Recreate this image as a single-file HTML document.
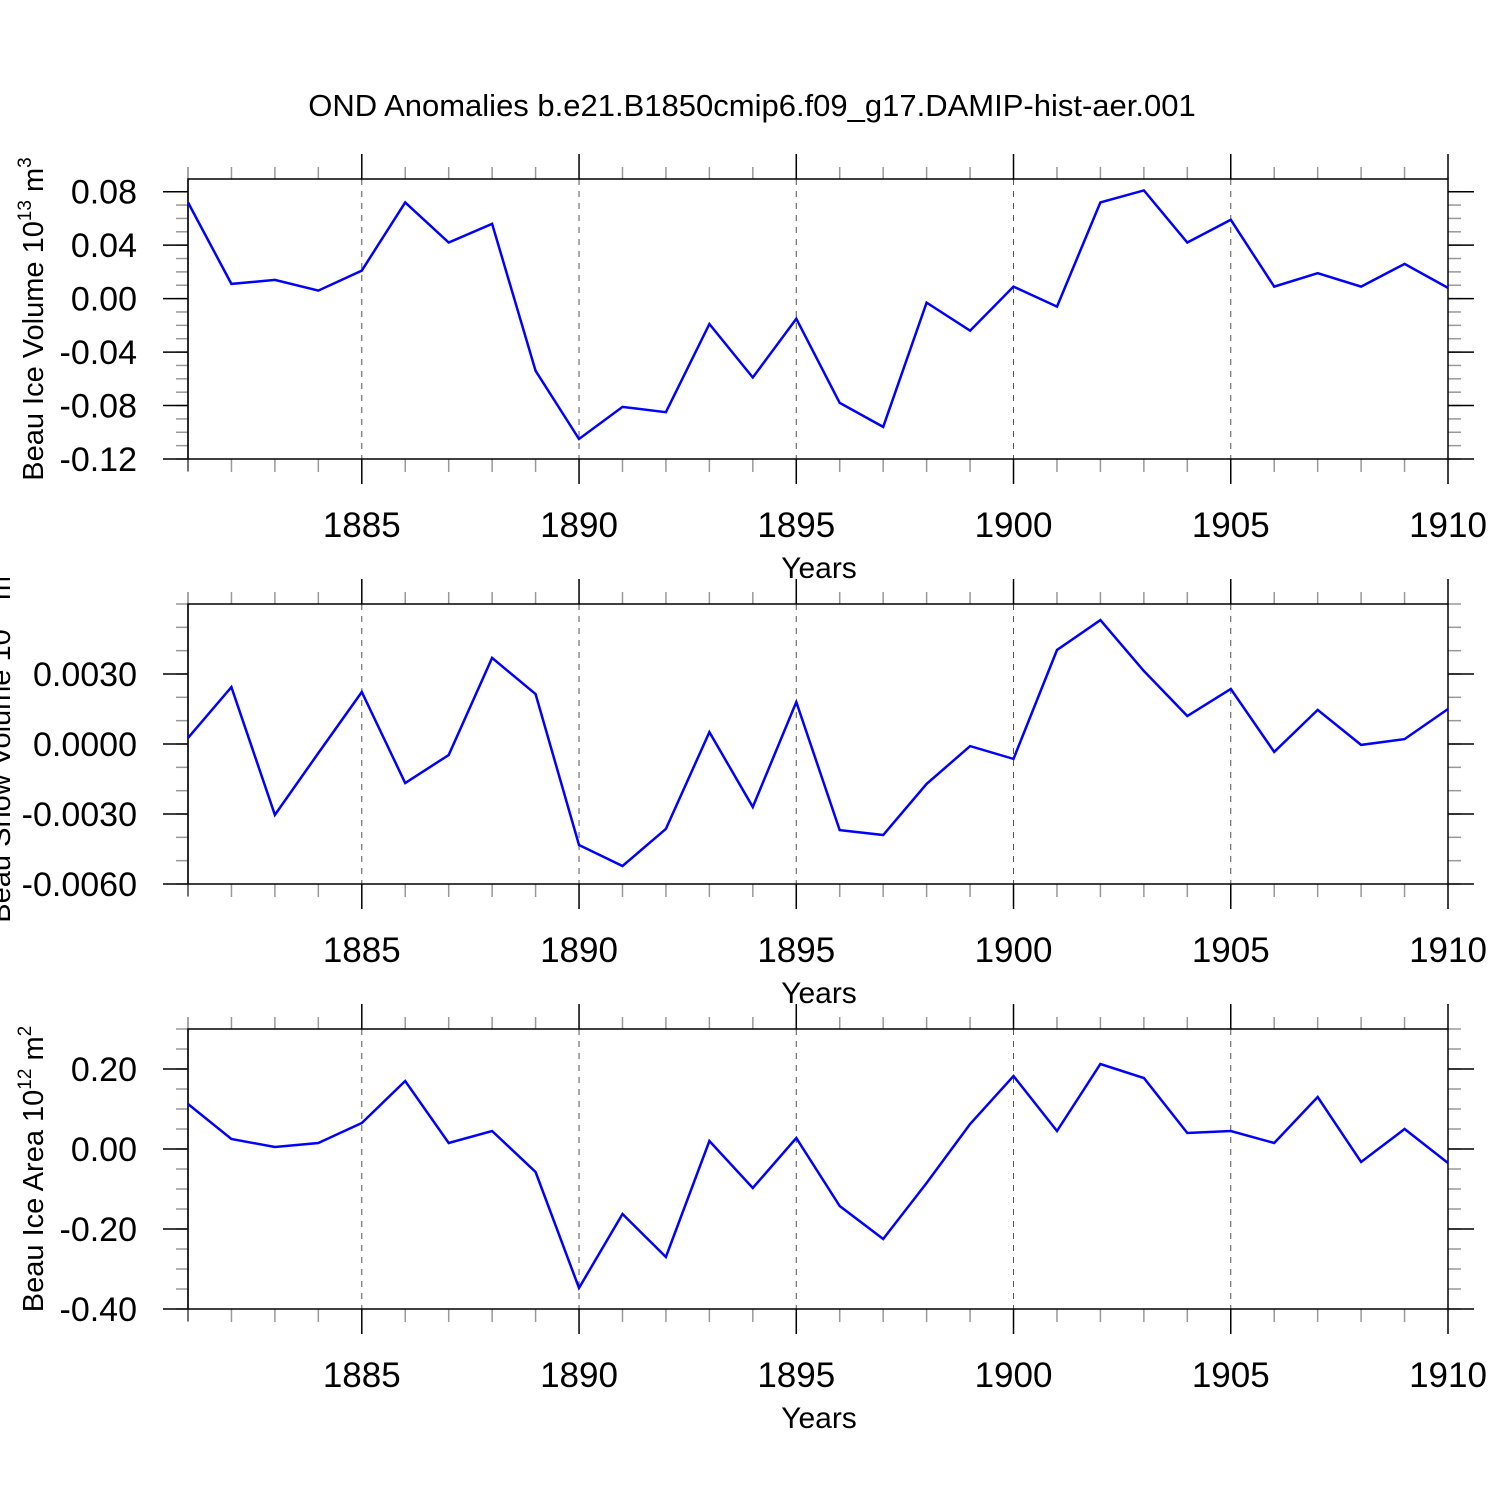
<!DOCTYPE html>
<html><head><meta charset="utf-8"><style>html,body{margin:0;padding:0;background:#fff}svg{display:block}text{font-family:"Liberation Sans",sans-serif;fill:#000}</style></head>
<body>
<svg id="chart" width="1500" height="1500" viewBox="0 0 1500 1500" xmlns="http://www.w3.org/2000/svg">
<rect width="1500" height="1500" fill="#fff"/>
<text x="752" y="116" font-size="31" text-anchor="middle">OND Anomalies b.e21.B1850cmip6.f09_g17.DAMIP-hist-aer.001</text>
<defs><clipPath id="snowclip"><rect x="0" y="578" width="200" height="344"/></clipPath></defs>
<g id="plots"></g>
</svg>
<script>
const years = [1881,1882,1883,1884,1885,1886,1887,1888,1889,1890,1891,1892,1893,1894,1895,1896,1897,1898,1899,1900,1901,1902,1903,1904,1905,1906,1907,1908,1909,1910];
const xTickLabels = [1885,1890,1895,1900,1905,1910];
const iceVolume = [0.072,0.011,0.014,0.006,0.021,0.072,0.042,0.056,-0.054,-0.105,-0.081,-0.085,-0.019,-0.059,-0.015,-0.078,-0.096,-0.003,-0.024,0.009,-0.006,0.072,0.081,0.042,0.059,0.009,0.019,0.009,0.026,0.008];
const snowVolume = [0.00026,0.00244,-0.00304,-0.00039,0.00223,-0.00167,-0.00047,0.00369,0.00214,-0.00433,-0.00523,-0.00364,0.00051,-0.0027,0.0018,-0.00369,-0.0039,-0.00171,-0.00009,-0.00064,0.00403,0.00531,0.00313,0.0012,0.00236,-0.00034,0.00146,-0.00004,0.00021,0.0015];
const iceArea = [0.1125,0.025,0.005,0.015,0.065,0.17,0.015,0.045,-0.0575,-0.3475,-0.1625,-0.27,0.02,-0.0975,0.0275,-0.1425,-0.225,-0.085,0.0625,0.1825,0.045,0.2125,0.1775,0.04,0.045,0.015,0.13,-0.0325,0.05,-0.035];
const volTicks = [0.08,0.04,0.00,-0.04,-0.08,-0.12];
const volTickLabels = ["0.08","0.04","0.00","-0.04","-0.08","-0.12"];
const snowTicks = [0.003,0,-0.003,-0.006];
const snowTickLabels = ["0.0030","0.0000","-0.0030","-0.0060"];
const areaTicks = [0.2,0,-0.2,-0.4];
const areaTickLabels = ["0.20","0.00","-0.20","-0.40"];

const NS="http://www.w3.org/2000/svg";
const root=document.getElementById('plots');
const X0=188,X1=1448,XMIN=1881,XMAX=1910;
function xs(v){return X0+(v-XMIN)/(XMAX-XMIN)*(X1-X0);}
function mk(tag,attrs,parent){const e=document.createElementNS(NS,tag);for(const k in attrs)e.setAttribute(k,attrs[k]);(parent||root).appendChild(e);return e;}

function panel(cfg){
  const g=mk('g',{});
  
  
  const top=cfg.top,bot=cfg.top+280;
  const ys=v=>bot-(v-cfg.ymin)/(cfg.ymax-cfg.ymin)*(bot-top);
  xTickLabels.slice(0,5).forEach(t=>{const l=mk('line',{x1:xs(t),x2:xs(t),y1:top,y2:bot,stroke:'#555','stroke-width':1,'stroke-dasharray':'6,6'},g);
    
    });
  for(let v=cfg.ymin;v<=cfg.ymax+1e-9;v+=cfg.minor){const y=ys(v);
    mk('line',{x1:176,x2:X0,y1:y,y2:y,stroke:'#999','stroke-width':1.5},g);
    mk('line',{x1:X1,x2:1461,y1:y,y2:y,stroke:'#999','stroke-width':1.5},g);}
  cfg.ticks.forEach((t,i)=>{const y=ys(t);
    mk('line',{x1:163,x2:X0,y1:y,y2:y,stroke:'#000','stroke-width':1.5},g);
    mk('line',{x1:X1,x2:1474,y1:y,y2:y,stroke:'#000','stroke-width':1.5},g);
    const tx=mk('text',{x:137,y:y+12,'font-size':34,'text-anchor':'end'},g);tx.textContent=cfg.labels[i];
    
    });
  years.forEach(yr=>{const x=xs(yr);const major=(yr%5===0);
    mk('line',{x1:x,x2:x,y1:top,y2:top-(major?25:12),stroke:major?'#000':'#999','stroke-width':1.5},g);
    mk('line',{x1:x,x2:x,y1:bot,y2:bot+(major?25:13),stroke:major?'#000':'#999','stroke-width':1.5},g);});
  mk('line',{x1:X0,x2:X0,y1:top,y2:bot+12,stroke:'#555','stroke-width':1.5},g);
  mk('line',{x1:X0,x2:X0,y1:top,y2:top-12,stroke:'#999','stroke-width':1.5},g);
  xTickLabels.forEach(t=>{const tx=mk('text',{x:xs(t),y:bot+78,'font-size':35,'text-anchor':'middle'},g);tx.textContent=t;
    
    });
  const xt=mk('text',{x:819,y:bot+119,'font-size':30,'text-anchor':'middle'},g);xt.textContent='Years';
  
  
  mk('rect',{x:X0,y:top,width:X1-X0,height:bot-top,fill:'none',stroke:'#000','stroke-width':1.5},g);
  const pts=years.map((yr,i)=>xs(yr).toFixed(1)+','+ys(cfg.data[i]).toFixed(1)).join(' ');
  const pl=mk('polyline',{points:pts,fill:'none',stroke:'#0000ff','stroke-width':2.5,'stroke-linejoin':'miter'},g);
  
  
  const yt=mk('text',{transform:`translate(${cfg.tx},${(top+bot)/2}) rotate(-90)`,'font-size':29,'text-anchor':'middle'},g);
  yt.innerHTML=cfg.title+'10<tspan dy="-12" font-size="19">'+cfg.exp+'</tspan><tspan dy="12"> m</tspan><tspan dy="-12" font-size="19">'+cfg.pw+'</tspan>';
  
  
  if(cfg.clip){const cg=mk('g',{'clip-path':'url(#snowclip)'},g);cg.appendChild(yt);}
}
panel({name:'ice-volume-panel',top:179,ymin:-0.12,ymax:0.0895,minor:0.01,ticks:volTicks,labels:volTickLabels,data:iceVolume,title:'Beau Ice Volume ',exp:'13',pw:'3',tx:43});
panel({name:'snow-volume-panel',top:604,ymin:-0.006,ymax:0.006,minor:0.001,ticks:snowTicks,labels:snowTickLabels,data:snowVolume,title:'Beau Snow Volume ',exp:'13',pw:'3',tx:10,clip:true});
panel({name:'ice-area-panel',top:1029,ymin:-0.4,ymax:0.3,minor:0.05,ticks:areaTicks,labels:areaTickLabels,data:iceArea,title:'Beau Ice Area ',exp:'12',pw:'2',tx:43});
</script>
</body></html>
